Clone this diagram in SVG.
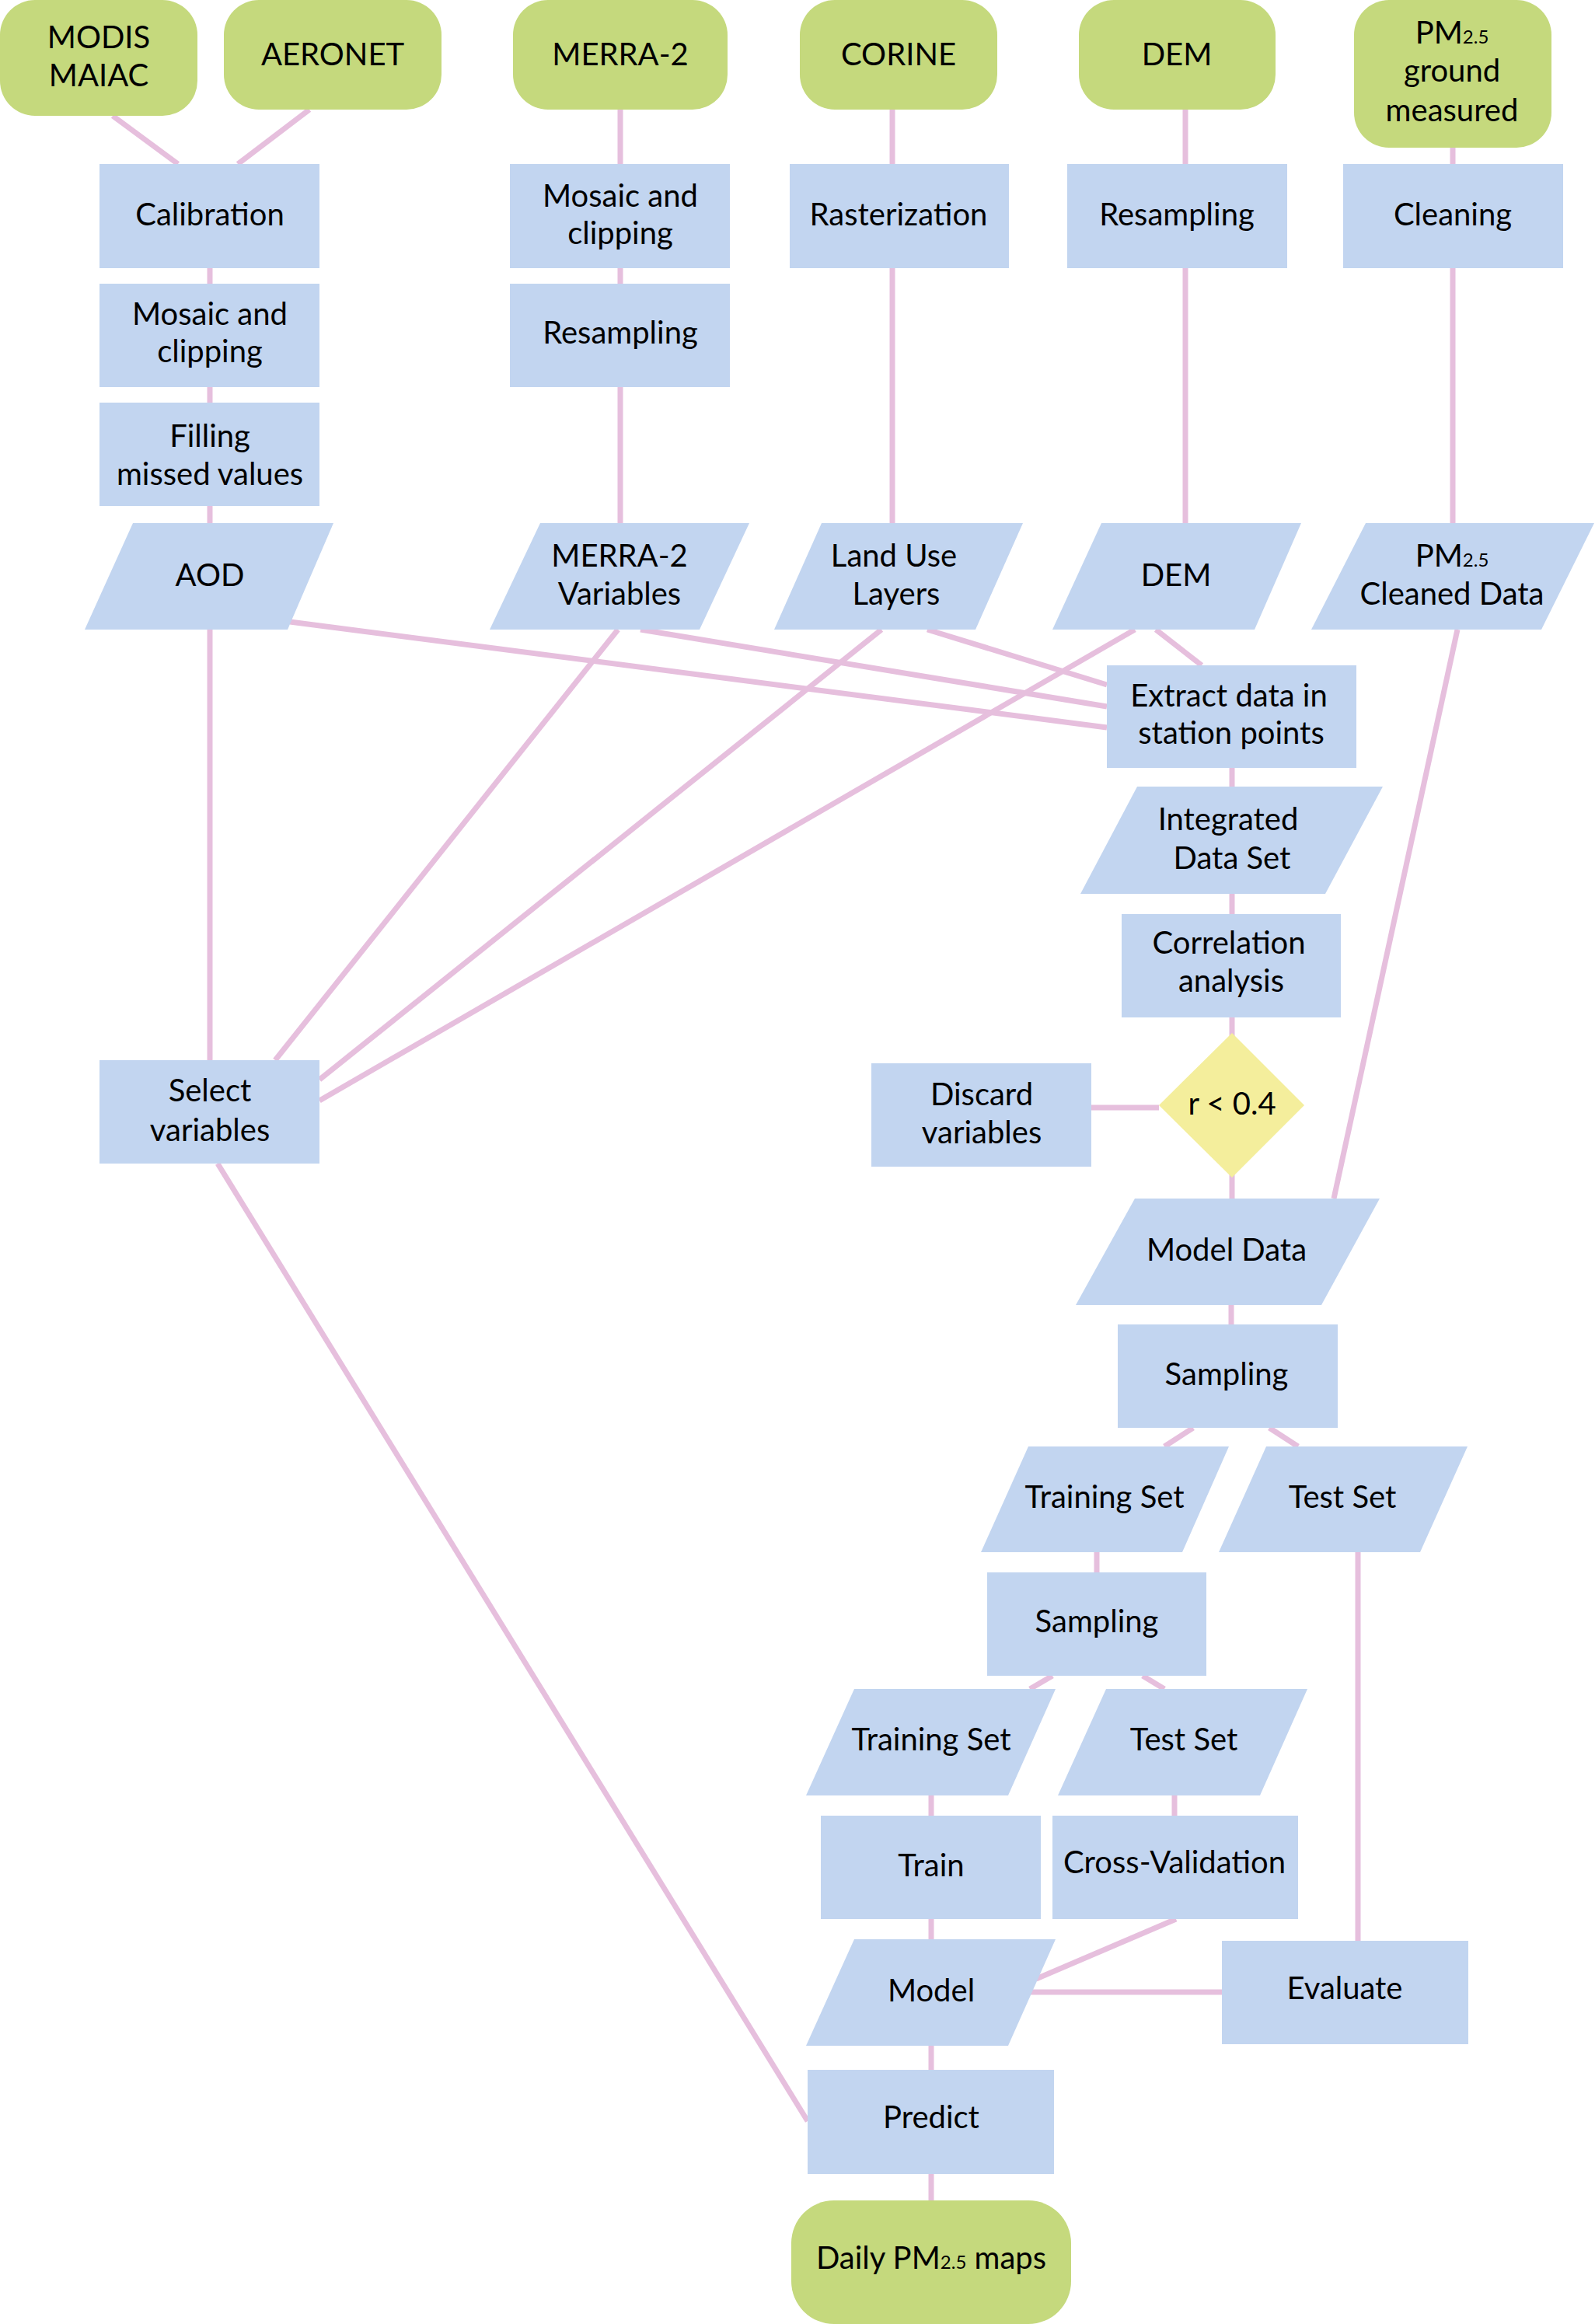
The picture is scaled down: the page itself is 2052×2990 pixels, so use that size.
<svg xmlns="http://www.w3.org/2000/svg" width="2052" height="2990" viewBox="0 0 2052 2990">
<style>
.src{fill:#C5D97D}
.box{fill:#C2D5F0}
.dec{fill:#F4EE9C}
.c line{stroke:#E6BFDD;stroke-width:7;fill:none}
text{font-family:"Lato","Liberation Sans",sans-serif;font-size:40px;fill:#000;text-anchor:middle}
.sub{font-size:24px}
</style>
<rect width="2052" height="2990" fill="#fff"/>
<g class="c" id="connectors">
<line x1="145" y1="149" x2="229" y2="211"/>
<line x1="398" y1="141" x2="306" y2="211"/>
<line x1="270" y1="345" x2="270" y2="365"/>
<line x1="270" y1="498" x2="270" y2="518"/>
<line x1="270" y1="651" x2="270" y2="673"/>
<line x1="270" y1="810" x2="270" y2="1364"/>
<line x1="798" y1="141" x2="798" y2="673"/>
<line x1="1148" y1="141" x2="1148" y2="673"/>
<line x1="1525" y1="141" x2="1525" y2="673"/>
<line x1="1869" y1="190" x2="1869" y2="673"/>
<line x1="373" y1="800" x2="1424" y2="936"/>
<line x1="824" y1="810" x2="1424" y2="909"/>
<line x1="1193" y1="810" x2="1424" y2="881"/>
<line x1="1487" y1="810" x2="1546" y2="856"/>
<line x1="795" y1="810" x2="354" y2="1364"/>
<line x1="1134" y1="810" x2="411" y2="1389"/>
<line x1="1460" y1="810" x2="411" y2="1416"/>
<line x1="1585" y1="988" x2="1585" y2="1542"/>
<line x1="1404" y1="1425" x2="1491" y2="1425"/>
<line x1="1875" y1="810" x2="1716" y2="1542"/>
<line x1="1584" y1="1679" x2="1584" y2="1704"/>
<line x1="1535" y1="1837" x2="1498" y2="1861"/>
<line x1="1633" y1="1837" x2="1670" y2="1861"/>
<line x1="1411" y1="1997" x2="1411" y2="2023"/>
<line x1="1354" y1="2156" x2="1325" y2="2173"/>
<line x1="1470" y1="2156" x2="1498" y2="2173"/>
<line x1="1747" y1="1997" x2="1747" y2="2497"/>
<line x1="1198" y1="2310" x2="1198" y2="2831"/>
<line x1="1511" y1="2310" x2="1511" y2="2336"/>
<line x1="1513" y1="2469" x2="1333" y2="2546"/>
<line x1="1326" y1="2563" x2="1572" y2="2563"/>
<line x1="280" y1="1497" x2="1039" y2="2729"/>
</g>
<g id="modis"><rect class="src" x="0" y="0" width="254" height="149" rx="45"/><text x="127" y="62">MODIS</text><text x="127" y="111">MAIAC</text></g>
<g id="aeronet"><rect class="src" x="288" y="0" width="280" height="141" rx="45"/><text x="428" y="84">AERONET</text></g>
<g id="merra2"><rect class="src" x="660" y="0" width="276" height="141" rx="45"/><text x="798" y="84">MERRA-2</text></g>
<g id="corine"><rect class="src" x="1029" y="0" width="254" height="141" rx="45"/><text x="1156" y="84">CORINE</text></g>
<g id="dem-src"><rect class="src" x="1388" y="0" width="253" height="141" rx="45"/><text x="1514" y="84">DEM</text></g>
<g id="pm-ground"><rect class="src" x="1742" y="0" width="254" height="190" rx="45"/><text x="1868" y="56">PM<tspan class="sub">2.5</tspan></text><text x="1868" y="105">ground</text><text x="1868" y="156">measured</text></g>
<g id="calibration"><rect class="box" x="128" y="211" width="283" height="134"/><text x="270" y="290">Calibration</text></g>
<g id="mosaic1"><rect class="box" x="128" y="365" width="283" height="133"/><text x="270" y="418">Mosaic and</text><text x="270" y="466">clipping</text></g>
<g id="filling"><rect class="box" x="128" y="518" width="283" height="133"/><text x="270" y="575">Filling</text><text x="270" y="624">missed values</text></g>
<g id="aod"><polygon class="box" points="171,673 429,673 370,810 109,810"/><text x="270" y="754">AOD</text></g>
<g id="mosaic2"><rect class="box" x="656" y="211" width="283" height="134"/><text x="798" y="266">Mosaic and</text><text x="798" y="314">clipping</text></g>
<g id="resampling1"><rect class="box" x="656" y="365" width="283" height="133"/><text x="798" y="442">Resampling</text></g>
<g id="merra-vars"><polygon class="box" points="695,673 964,673 900,810 630,810"/><text x="797" y="729">MERRA-2</text><text x="797" y="778">Variables</text></g>
<g id="rasterization"><rect class="box" x="1016" y="211" width="282" height="134"/><text x="1156" y="290">Rasterization</text></g>
<g id="landuse"><polygon class="box" points="1057,673 1316,673 1255,810 996,810"/><text x="1150" y="729">Land Use</text><text x="1153" y="778">Layers</text></g>
<g id="resampling2"><rect class="box" x="1373" y="211" width="283" height="134"/><text x="1514" y="290">Resampling</text></g>
<g id="dem"><polygon class="box" points="1417,673 1674,673 1614,810 1354,810"/><text x="1513" y="754">DEM</text></g>
<g id="cleaning"><rect class="box" x="1728" y="211" width="283" height="134"/><text x="1869" y="290">Cleaning</text></g>
<g id="pm-cleaned"><polygon class="box" points="1757,673 2051,673 1983,810 1687,810"/><text x="1868" y="729">PM<tspan class="sub">2.5</tspan></text><text x="1868" y="778">Cleaned Data</text></g>
<g id="select"><rect class="box" x="128" y="1364" width="283" height="133"/><text x="270" y="1417">Select</text><text x="270" y="1468">variables</text></g>
<g id="extract"><rect class="box" x="1424" y="856" width="321" height="132"/><text x="1581" y="909">Extract data in</text><text x="1584" y="957">station points</text></g>
<g id="integrated"><polygon class="box" points="1463,1012 1779,1012 1705,1150 1390,1150"/><text x="1580" y="1068">Integrated</text><text x="1585" y="1118">Data Set</text></g>
<g id="correlation"><rect class="box" x="1443" y="1176" width="282" height="133"/><text x="1581" y="1227">Correlation</text><text x="1584" y="1276">analysis</text></g>
<g id="discard"><rect class="box" x="1121" y="1368" width="283" height="133"/><text x="1263" y="1422">Discard</text><text x="1263" y="1471">variables</text></g>
<g id="decision"><polygon class="dec" points="1585,1329 1678,1422 1585,1515 1491,1422"/><text x="1585" y="1434">r &lt; 0.4</text></g>
<g id="model-data"><polygon class="box" points="1460,1542 1775,1542 1700,1679 1384,1679"/><text x="1578" y="1622">Model Data</text></g>
<g id="sampling1"><rect class="box" x="1438" y="1704" width="283" height="133"/><text x="1578" y="1782">Sampling</text></g>
<g id="training1"><polygon class="box" points="1323,1861 1581,1861 1521,1997 1262,1997"/><text x="1421" y="1940">Training Set</text></g>
<g id="test1"><polygon class="box" points="1629,1861 1888,1861 1827,1997 1568,1997"/><text x="1727" y="1940">Test Set</text></g>
<g id="sampling2"><rect class="box" x="1270" y="2023" width="282" height="133"/><text x="1411" y="2100">Sampling</text></g>
<g id="training2"><polygon class="box" points="1099,2173 1358,2173 1297,2310 1037,2310"/><text x="1198" y="2252">Training Set</text></g>
<g id="test2"><polygon class="box" points="1423,2173 1682,2173 1621,2310 1361,2310"/><text x="1523" y="2252">Test Set</text></g>
<g id="train"><rect class="box" x="1056" y="2336" width="283" height="133"/><text x="1198" y="2414">Train</text></g>
<g id="cv"><rect class="box" x="1354" y="2336" width="316" height="133"/><text x="1511" y="2410">Cross-Validation</text></g>
<g id="model"><polygon class="box" points="1099,2495 1358,2495 1297,2632 1037,2632"/><text x="1198" y="2575">Model</text></g>
<g id="evaluate"><rect class="box" x="1572" y="2497" width="317" height="133"/><text x="1730" y="2572">Evaluate</text></g>
<g id="predict"><rect class="box" x="1039" y="2663" width="317" height="134"/><text x="1198" y="2738">Predict</text></g>
<g id="daily"><rect class="src" x="1018" y="2831" width="360" height="159" rx="55"/><text x="1198" y="2919">Daily PM<tspan class="sub">2.5</tspan> maps</text></g>
</svg>
